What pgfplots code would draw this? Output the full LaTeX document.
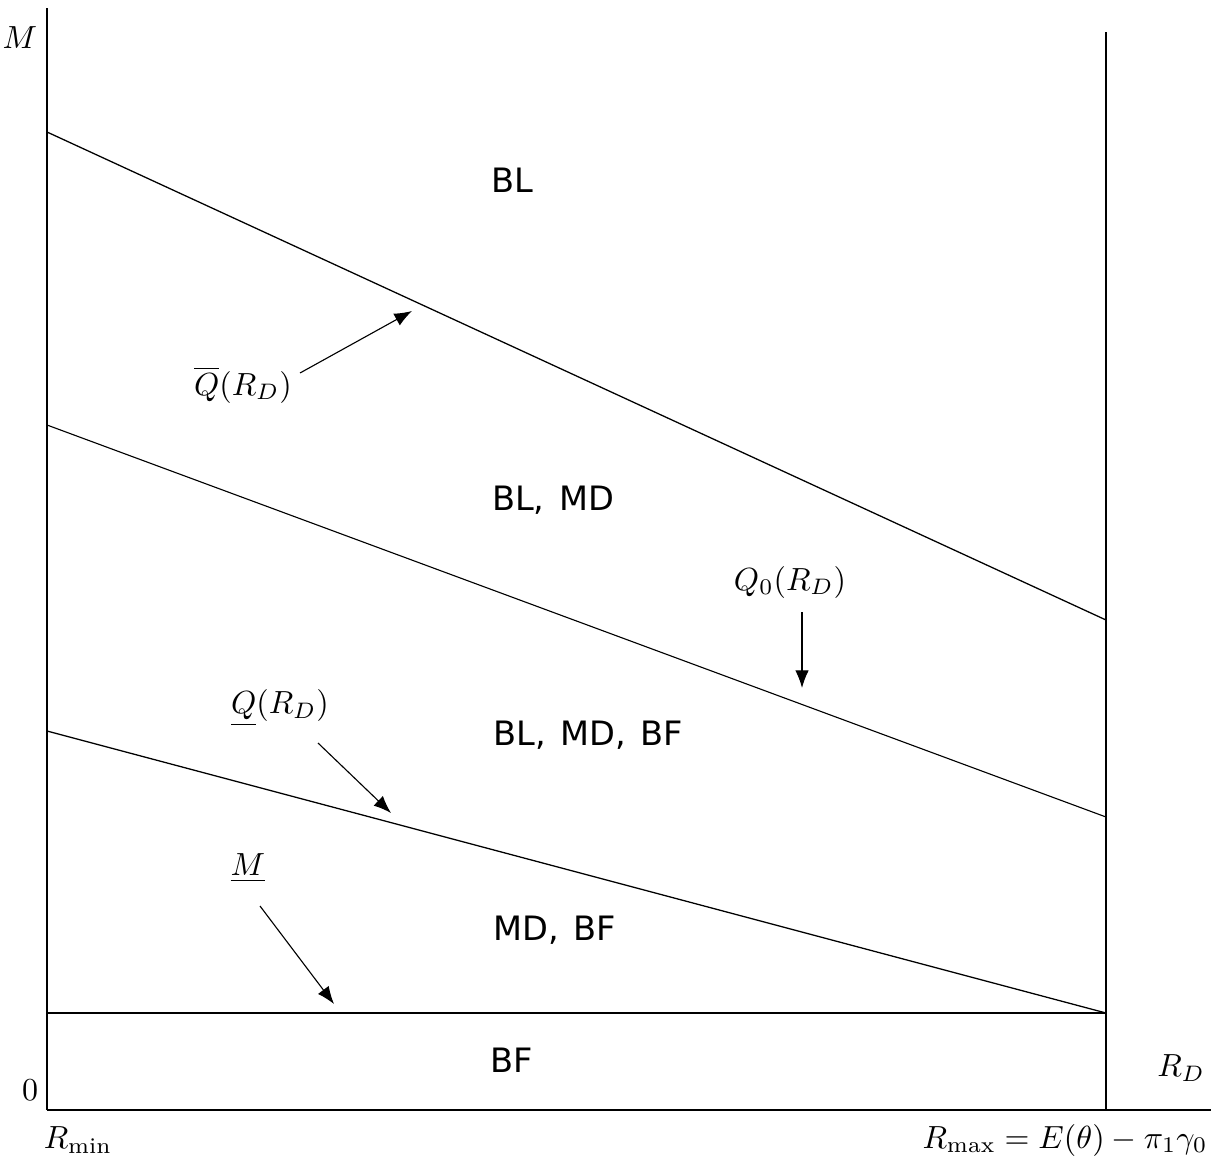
\documentclass[border=0pt]{standalone}
\usepackage{fontspec}
\usepackage{pgfplots}
\pgfplotsset{compat=1.18}
\usetikzlibrary{arrows.meta}
\newfontfamily\regfont[WordSpace={1.35,0,0}]{DejaVu Sans}
\begin{document}
\begin{tikzpicture}
\begin{axis}[
  x=0.3125pt, y=0.3125pt,
  xmin=47, xmax=1211, ymin=51, ymax=1153,
  axis lines=left,
  axis line style={-, line width=0.4pt},
  xtick=\empty, ytick=\empty,
  enlargelimits=false,
  clip=false,
  cycle list={{black, line width=0.35pt, no markers}},
]
% Qbar
\addplot coordinates {(47,1029) (1106,541)};
% Q0
\addplot coordinates {(47,736) (1106,344)};
% Q underline
\addplot coordinates {(47,430) (1106,148)};
% M underline
\addplot coordinates {(47,148) (1106,148)};
% R_max vertical
\addplot coordinates {(1106,51) (1106,1129)};

\draw[line width=0.35pt,-{Latex[length=5.5pt,width=4.2pt]}] (axis cs:300,788) -- (axis cs:412,850);
\draw[line width=0.35pt,-{Latex[length=5.5pt,width=4.2pt]}] (axis cs:802,549) -- (axis cs:802,473);
\draw[line width=0.35pt,-{Latex[length=5.5pt,width=4.2pt]}] (axis cs:318,418) -- (axis cs:391,348);
\draw[line width=0.35pt,-{Latex[length=5.5pt,width=4.2pt]}] (axis cs:260,255) -- (axis cs:334,157);

\node at (axis cs:243,776) {$\overline{Q}(R_D)$};
\node at (axis cs:790,579) {$Q_0(R_D)$};
\node at (axis cs:280,453) {$\underline{Q}(R_D)$};
\node at (axis cs:248,293) {$\underline{M}$};

\node at (axis cs:20,1123) {$M$};
\node at (axis cs:30,71) {$0$};
\node at (axis cs:1181,93) {$R_D$};
\node at (axis cs:78,21) {$R_{\min}$};
\node at (axis cs:1065,21) {$R_{\max}=E(\theta)-\pi_1\gamma_0$};

\node[font=\regfont\fontsize{10.5}{12}\selectfont] at (axis cs:512,981) {BL};
\node[font=\regfont\fontsize{10.5}{12}\selectfont] at (axis cs:553,661) {BL, MD};
\node[font=\regfont\fontsize{10.5}{12}\selectfont] at (axis cs:588,426) {BL, MD, BF};
\node[font=\regfont\fontsize{10.5}{12}\selectfont] at (axis cs:555,231) {MD, BF};
\node[font=\regfont\fontsize{10.5}{12}\selectfont] at (axis cs:512,101) {BF};

\coordinate (BBa) at (axis cs:0,0);
\coordinate (BBb) at (axis cs:1211,1161);
\end{axis}
\pgfresetboundingbox
\useasboundingbox (BBa) rectangle (BBb);
\end{tikzpicture}
\end{document}
